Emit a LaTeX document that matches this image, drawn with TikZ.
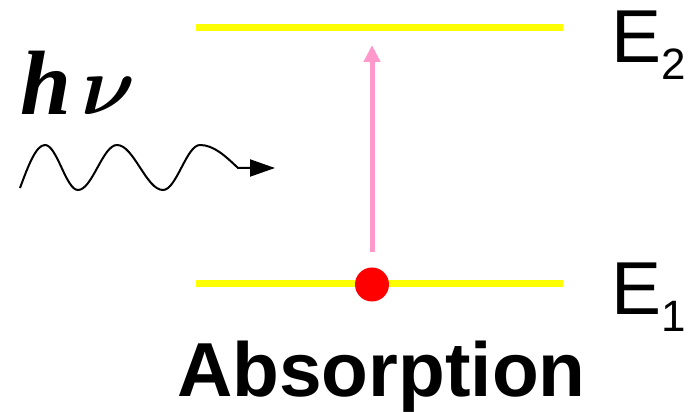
\documentclass[tikz,border=0pt]{standalone}
\usepackage{amsmath}
\usepackage{graphicx}
\usepackage{fontspec}
\usepackage{tikz}
\usetikzlibrary{arrows.meta,positioning}
\newfontfamily\arialfont{Liberation Sans}
\newfontfamily\timesfont{Liberation Serif}
\definecolor{levelyellow}{HTML}{FFFF00}
\definecolor{pumppink}{HTML}{FF99CC}
\newcommand{\lvl}[1]{E\raisebox{-0.34cm}{\fontsize{25pt}{28pt}\selectfont #1}}

\begin{document}
\begin{tikzpicture}[
  x=0.02cm, y=0.02cm,
  level/.style={draw=levelyellow, line width=0.14cm},
  lbl/.style={font=\arialfont\fontsize{42.7pt}{48pt}\selectfont, inner sep=0pt, anchor=base west},
  pump/.style={draw=pumppink, line width=0.1cm, -{Triangle[length=0.34cm, width=0.32cm]}},
  wave/.style={draw=black, line width=0.04cm, -{Triangle[length=0.5cm, width=0.34cm]}}
]
\useasboundingbox (0,0) rectangle (691,412);

% energy levels
\coordinate (upper left)  at (196,384);
\coordinate (upper right) at (563,384);
\coordinate (upper mid)   at (372,384);
\coordinate (lower left)  at (196,128);
\coordinate (lower right) at (563,128);

\draw[level] (upper left) -- (upper right);
\draw[level] (lower left) -- (lower right);

\node[lbl] (e2) at (611,349) {\lvl{2}};
\node[lbl] (e1) at (611,97)  {\lvl{1}};

% electron and transition
\node[circle, fill=red, inner sep=0pt, minimum size=0.68cm] (electron) at (372,127.5) {};
\draw[pump, shorten <=0.3cm, shorten >=0.34cm] (electron) -- (upper mid);

% incoming photon
\node[font=\timesfont\bfseries\itshape\fontsize{52pt}{58pt}\selectfont, inner sep=0pt, anchor=base west]
  (hv) at (20,297) {h\hspace{0.2cm}\scalebox{2.3}{\huge$\boldsymbol{\nu}$}};

\coordinate (photon start) at (20,224);
\coordinate (photon end)   at (275,244);
\draw[wave] (photon start) sin (45,267) cos (61.5,244.5) sin (78,222) cos (97.5,244.5)
  sin (117,267) cos (140,244.5) sin (163,222) cos (181.5,244.5) sin (200,267)
  cos (238,244) -- (photon end);

\node[font=\arialfont\bfseries\fontsize{43.6pt}{48pt}\selectfont, inner sep=0pt, anchor=base]
  (title) at (381.5,15) {Absorption};

\end{tikzpicture}
\end{document}
